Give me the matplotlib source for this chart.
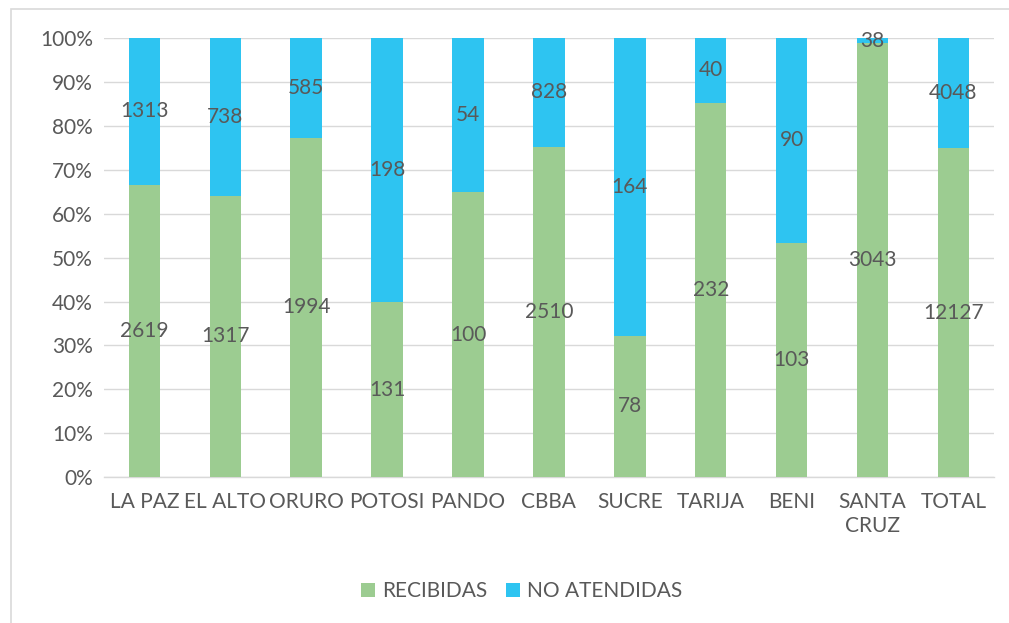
import matplotlib
matplotlib.use("Agg")
import matplotlib.pyplot as plt
from matplotlib.patches import Rectangle
from matplotlib.ticker import PercentFormatter
import numpy as np

categories = ["LA PAZ", "EL ALTO", "ORURO", "POTOSI", "PANDO", "CBBA", "SUCRE",
              "TARIJA", "BENI", "SANTA\nCRUZ", "TOTAL"]
recibidas = [2619, 1317, 1994, 131, 100, 2510, 78, 232, 103, 3043, 12127]
no_atendidas = [1313, 738, 585, 198, 54, 828, 164, 40, 90, 38, 4048]
series_names = ["RECIBIDAS", "NO ATENDIDAS"]

GREEN = "#9ccc91"
BLUE = "#2ec4f1"
TXT = "#595959"
GRID = "#d9d9d9"

plt.rcParams['font.family'] = ['Lato', 'DejaVu Sans']
FS = 15

fig = plt.figure(figsize=(10.09, 6.23), dpi=100)
ax = fig.add_axes([0.103, 0.234, 0.882, 0.705])

r = np.array(recibidas, dtype=float)
n = np.array(no_atendidas, dtype=float)
tot = r + n
rp = r / tot * 100
npct = n / tot * 100
x = np.arange(len(categories))
w = 0.39

b1 = ax.bar(x, rp, w, color=GREEN, label=series_names[0], zorder=3)
b2 = ax.bar(x, npct, w, bottom=rp, color=BLUE, label=series_names[1], zorder=3)

for i in range(len(x)):
    ax.text(x[i], rp[i] / 2, str(recibidas[i]), ha='center', va='center',
            fontsize=FS, color=TXT, zorder=4)
    ax.text(x[i], rp[i] + npct[i] / 2, str(no_atendidas[i]), ha='center', va='center',
            fontsize=FS, color=TXT, zorder=4)

ax.set_xlim(-0.5, len(categories) - 0.5)
ax.set_ylim(0, 100)
ax.set_yticks(np.arange(0, 101, 10))
ax.yaxis.set_major_formatter(PercentFormatter(decimals=0))
ax.set_xticks(x)
ax.set_xticklabels(categories)
ax.tick_params(axis='both', length=0, labelsize=FS, labelcolor=TXT)
ax.tick_params(axis='x', pad=11)
ax.tick_params(axis='y', pad=8)
ax.grid(axis='y', color=GRID, linewidth=1, zorder=0)
for s in ['top', 'right', 'left']:
    ax.spines[s].set_visible(False)
ax.spines['bottom'].set_color(GRID)
ax.spines['bottom'].set_linewidth(1)

leg = fig.legend(handles=[b1, b2], labels=series_names, loc='center',
                 bbox_to_anchor=(0.517, 0.051), ncol=2, frameon=False,
                 fontsize=FS, handlelength=0.65, handleheight=0.65,
                 handletextpad=0.35, columnspacing=0.9)
for t in leg.get_texts():
    t.set_color(TXT)

fig.patches.append(Rectangle((0.011, -0.05), 1.1, 1 - 9 / 623 + 0.05,
                             transform=fig.transFigure, fill=False,
                             edgecolor=GRID, linewidth=1.2))

fig.savefig("out.png", dpi=100)
